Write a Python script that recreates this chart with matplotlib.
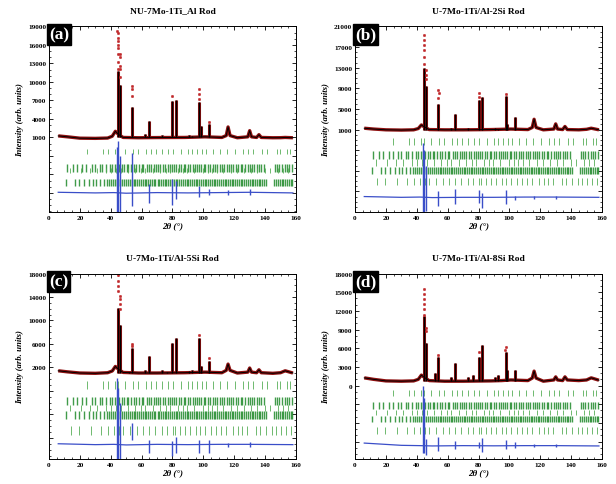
import numpy as np
import matplotlib
matplotlib.use("Agg")
import matplotlib.pyplot as plt
from matplotlib.ticker import MultipleLocator, FixedLocator, FixedFormatter

plt.rcParams['font.family'] = ['Liberation Serif', 'DejaVu Serif']

# ---------------- data ----------------
titles = ["NU-7Mo-1Ti_Al Rod", "U-7Mo-1Ti/Al-2Si Rod",
          "U-7Mo-1Ti/Al-5Si Rod", "U-7Mo-1Ti/Al-8Si Rod"]
panel_labels = ["(a)", "(b)", "(c)", "(d)"]

# background / broad features (observed ~ calculated)
bg_x = [6, 12, 20, 30, 38, 41, 43, 45, 48, 58, 70, 88, 95, 101, 112, 114.8, 116,
        117.3, 122, 128.8, 130, 131.2, 134.5, 136, 137.5, 145, 150, 153, 158]
bg_a = [1250, 1100, 880, 850, 900, 1200, 2000, 1500, 1000, 950, 980, 1000, 1050, 1100,
        1000, 1300, 2700, 1300, 950, 1100, 2100, 1100, 1000, 1450, 1000, 950, 960, 1000, 950]
bg_b = [1260, 1100, 950, 900, 950, 1200, 1900, 1500, 1000, 950, 950, 1000, 1050, 1100,
        1000, 1400, 3000, 1400, 950, 1100, 2100, 1100, 1000, 1600, 1000, 950, 1050, 1260, 950]
bg_c = [1430, 1250, 1050, 1000, 1100, 1400, 2170, 1700, 1150, 1050, 1050, 1100, 1150, 1200,
        1100, 1500, 2570, 1500, 1050, 1200, 1900, 1200, 1100, 1600, 1100, 1000, 1100, 1430, 1050]
bg_d = [1240, 1000, 750, 700, 750, 1000, 1680, 1300, 800, 700, 700, 750, 800, 900,
        800, 1200, 2320, 1200, 700, 900, 1400, 900, 800, 1400, 900, 800, 900, 1240, 860]

# sharp reflections: calculated peak tops
peak_x = [44.5, 46.0, 52.0, 54.0, 62.0, 65.0, 73.5, 76.5, 80.0, 82.5, 91.0, 92.5, 97.5, 98.6, 103.5]
calc_a = [11750, 9450, 1000, 5900, 1500, 3700, 1400, 1000, 6840, 7100, 1350, 1200, 6800, 2800, 3200]
calc_b = [12900, 9450, 1000, 6000, 1300, 4000, 1300, 1000, 6700, 7400, 1300, 1200, 7500, 2000, 3400]
calc_c = [12170, 9200, 1200, 5300, 1500, 3900, 1500, 1300, 6200, 7100, 1400, 1500, 7000, 2200, 3140]
calc_d = [11140, 6800, 1950, 4650, 1300, 3570, 1400, 1680, 4650, 6540, 1300, 1680, 5460, 2490, 2490]
base_a, base_b, base_c, base_d = 1000, 1000, 1100, 800

# observed points standing above the calculated peaks
obs_x_a = [44.3, 44.4, 44.5, 44.4, 44.6, 44.5, 44.4, 44.6, 44.5, 46.0, 46.1, 45.9, 46.0, 46.1,
           54.0, 54.0, 54.1, 80.0, 97.5, 97.4, 97.5, 103.5]
obs_y_a = [18350, 17900, 17100, 16650, 16000, 15450, 14600, 13270, 12180, 14600, 14000, 12600,
           12100, 10800, 9350, 8800, 7800, 7800, 8800, 8100, 7300, 3560]
obs_x_b = [44.4, 44.5, 44.4, 44.5, 44.6, 44.4, 46.0, 46.1, 45.9, 54.0, 54.1, 54.0, 80.0, 80.1, 97.5]
obs_y_b = [19300, 18350, 17400, 16400, 15100, 13700, 12550, 11600, 10900, 8700, 8000, 7100,
           8000, 7400, 7900]
obs_x_c = [44.5, 44.4, 44.5, 44.6, 44.4, 46.0, 46.1, 45.9, 46.0, 54.0, 54.1, 97.5, 103.5]
obs_y_c = [18740, 17770, 16740, 15890, 15030, 14170, 13600, 12740, 11890, 6000, 5600, 7600, 3600]
obs_x_d = [44.5, 44.4, 44.5, 44.6, 44.4, 44.5, 46.0, 46.1, 54.0, 80.0, 97.5, 97.4]
obs_y_d = [15460, 14650, 13840, 13030, 12220, 11400, 9240, 8700, 4900, 5460, 6270, 5730]

# difference curve
diff_bx = [6, 30, 42, 50, 70, 90, 110, 130, 158]
diff_a = [-7900, -8000, -7950, -8050, -7950, -8000, -7950, -7900, -8000]
diff_b = [-12000, -12150, -12100, -12200, -12150, -12150, -12100, -12100, -12150]
diff_c = [-11000, -11150, -11100, -11200, -11100, -11150, -11100, -11100, -11150]
diff_d = [-9240, -9600, -9650, -9700, -9650, -9680, -9650, -9650, -9700]
spike_x = [44.3, 44.8, 46.0, 54.0, 65.0, 80.0, 82.5, 97.5, 103.5, 116.0, 130.0]
spike_lo_a = [-12000, -12000, -11500, -10200, -9600, -9900, -9000, -8700, -8400, -8300, -8300]
spike_hi_a = [-500, 500, -2000, -1450, -6600, -5800, -6000, -6800, -7300, -7600, -7300]
spike_lo_b = [-15000, -15000, -14800, -13900, -13400, -13300, -14300, -13400, -12700, -12500, -12400]
spike_hi_b = [-1650, -3000, -6000, -11000, -10500, -10700, -11400, -10700, -11800, -11900, -11800]
spike_lo_c = [-13800, -13800, -13600, -10400, -12600, -13100, -12600, -12600, -12600, -11600, -11500]
spike_hi_c = [170, -1500, -4000, -7540, -10400, -10600, -9800, -10300, -10400, -10800, -10700]
spike_lo_d = [-10760, -10800, -11200, -10500, -10200, -10000, -10700, -10200, -10100, -9900, -9900]
spike_hi_d = [0, -2000, -8600, -8300, -8900, -9000, -8500, -8700, -9000, -9400, -9400]

# Bragg reflection positions of the phases
phase_a = [24.6, 35.0, 38.4, 42.6, 44.8, 49.3, 54.5, 57.8, 63.0, 66.2, 69.6, 73.1, 77.0, 80.4,
           85.8, 90.0, 92.7, 95.6, 98.8, 101.6, 106.0, 110.7, 115.3, 120.4, 125.8, 129.0,
           132.0, 137.7, 141.2, 147.5, 149.6, 154.0, 156.2]
phase_b = [11.8, 15.4, 18.1, 21.7, 24.3, 27.6, 29.9, 32.8, 34.6, 37.2, 39.5, 41.1, 42.9, 44.3,
           45.6, 47.2, 48.5, 50.3, 51.4, 53.1, 55.2, 56.4, 58.3, 60.1, 61.2, 63.4, 64.6, 66.1,
           67.9, 69.3, 70.4, 72.2, 74.1, 75.3, 77.2, 78.6, 79.7, 81.2, 82.4, 84.1, 85.4, 87.2,
           88.3, 90.1, 91.6, 93.2, 94.4, 96.1, 97.3, 98.4, 100.2, 101.3, 103.1, 104.6, 106.2,
           107.4, 109.1, 110.6, 112.2, 113.3, 115.1, 116.6, 118.2, 119.4, 121.1, 122.7, 124.2,
           125.3, 127.1, 128.6, 130.2, 131.4, 133.1, 134.6, 136.3, 137.4, 139.1, 146.2, 147.5,
           149.3, 151.2, 152.6, 154.1, 155.3, 157.2]
phase_c = [13.5, 20.8, 26.4, 31.2, 36.9, 40.3, 43.5, 46.8, 51.0, 55.7, 59.4, 62.5, 67.3, 71.8,
           75.9, 78.2, 83.5, 86.9, 89.4, 94.1, 99.6, 102.8, 105.4, 108.7, 112.9, 117.6, 121.8,
           126.5, 131.0, 134.9, 139.7, 143.4, 148.3, 151.8, 155.1]
phase_d = [11.0, 16.7, 19.6, 22.8, 25.9, 28.3, 30.6, 33.1, 35.4, 37.6, 38.8, 40.2, 41.5, 42.7,
           43.9, 45.0, 46.3, 47.4, 48.8, 49.9, 51.2, 52.3, 53.6, 54.8, 56.0, 57.1, 58.5, 59.6,
           60.8, 62.0, 63.1, 64.3, 65.6, 66.7, 67.9, 69.0, 70.3, 71.4, 72.6, 73.8, 75.0, 76.1,
           77.3, 78.5, 79.6, 80.9, 82.0, 83.2, 84.4, 85.5, 86.8, 87.9, 89.1, 90.3, 91.4, 92.6,
           93.8, 95.0, 96.1, 97.3, 98.5, 99.6, 100.8, 102.0, 103.1, 104.3, 105.5, 106.6, 107.8,
           109.0, 110.2, 111.3, 112.5, 113.7, 114.8, 116.0, 117.2, 118.3, 119.5, 120.7, 121.8,
           123.0, 124.2, 125.3, 126.5, 127.7, 128.8, 130.0, 131.2, 132.3, 133.5, 134.7, 135.8,
           137.0, 138.2, 139.3, 140.5, 146.0, 147.2, 148.4, 149.5, 150.7, 151.9, 153.0, 154.2,
           155.4, 156.5, 157.6]
phase_e = [14.2, 19.5, 27.0, 33.6, 38.1, 41.8, 45.2, 48.0, 52.6, 56.9, 61.0, 64.8, 68.5, 72.9,
           76.6, 80.1, 81.7, 84.8, 88.0, 91.2, 95.3, 97.9, 100.9, 104.9, 107.9, 111.6, 114.4,
           118.9, 122.3, 125.0, 128.1, 133.8, 136.6, 140.6, 144.2, 146.8, 150.4, 153.6, 156.7]

# y-axis ranges and ticks (labels only on the upper part)
ylims = [(-11100, 19000), (-15000, 21000), (-13600, 18000), (-11800, 18000)]
yticks_a = [-8000, -5000, -2000, 1000, 4000, 7000, 10000, 13000, 16000, 19000]
ylabels_a = ["", "", "", "1000", "4000", "7000", "10000", "13000", "16000", "19000"]
yticks_b = [-11000, -7000, -3000, 1000, 5000, 9000, 13000, 17000, 21000]
ylabels_b = ["", "", "", "1000", "5000", "9000", "13000", "17000", "21000"]
yticks_c = [-10000, -6000, -2000, 2000, 6000, 10000, 14000, 18000]
ylabels_c = ["", "", "", "2000", "6000", "10000", "14000", "18000"]
yticks_d = [-9000, -6000, -3000, 0, 3000, 6000, 9000, 12000, 15000, 18000]
ylabels_d = ["", "", "", "0", "3000", "6000", "9000", "12000", "15000", "18000"]

# ---------------- drawing ----------------
light_g = '#55ad55'
dark_g = '#1f8a2a'
panels = [
    dict(bg=bg_a, calc=calc_a, base=base_a, ox=obs_x_a, oy=obs_y_a, diff=diff_a,
         lo=spike_lo_a, hi=spike_hi_a, yt=yticks_a, yl=ylabels_a,
         rows=[(phase_a, -1300, 900, light_g), (phase_b, -4000, 1300, dark_g),
               (phase_c, -4300, 800, light_g), (phase_d, -6300, 1100, dark_g)]),
    dict(bg=bg_b, calc=calc_b, base=base_b, ox=obs_x_b, oy=obs_y_b, diff=diff_b,
         lo=spike_lo_b, hi=spike_hi_b, yt=yticks_b, yl=ylabels_b,
         rows=[(phase_a, -1320, 1300, light_g), (phase_b, -3900, 1500, dark_g),
               (phase_c, -5400, 1200, light_g), (phase_d, -6900, 1300, dark_g),
               (phase_e, -9060, 1500, light_g)]),
    dict(bg=bg_c, calc=calc_c, base=base_c, ox=obs_x_c, oy=obs_y_c, diff=diff_c,
         lo=spike_lo_c, hi=spike_hi_c, yt=yticks_c, yl=ylabels_c,
         rows=[(phase_a, -970, 1300, light_g), (phase_b, -3700, 1500, dark_g),
               (phase_c, -4900, 1100, light_g), (phase_d, -6100, 1200, dark_g),
               (phase_e, -8700, 1500, light_g)]),
    dict(bg=bg_d, calc=calc_d, base=base_d, ox=obs_x_d, oy=obs_y_d, diff=diff_d,
         lo=spike_lo_d, hi=spike_hi_d, yt=yticks_d, yl=ylabels_d,
         rows=[(phase_a, -1180, 1000, light_g), (phase_b, -3200, 1200, dark_g),
               (phase_c, -4300, 900, light_g), (phase_d, -5360, 1000, dark_g),
               (phase_e, -7230, 1200, light_g)]),
]

fig = plt.figure(figsize=(6.16, 4.85), dpi=100)
lefts = [0.0795, 0.5763, 0.0795, 0.5763]
bottoms = [0.5608, 0.5608, 0.0515, 0.0515]
W, H = 0.401, 0.3825

red = '#c0282a'
dark_red = '#8e1010'
blue = '#3a4ec8'

for i, p in enumerate(panels):
    ax = fig.add_axes([lefts[i], bottoms[i], W, H])
    # Bragg ticks
    for pos, yc, h, col in p['rows']:
        ax.vlines(pos, yc - h / 2, yc + h / 2, color=col,
                  lw=1.0 if col == dark_g else 0.7, alpha=0.85)
    # difference curve
    ax.plot(diff_bx, p['diff'], color=blue, lw=0.9)
    ax.vlines(spike_x, p['lo'], p['hi'], color=blue, lw=1.0)
    # observed (red band) and calculated (black)
    ax.plot(bg_x, p['bg'], color=dark_red, lw=2.4, solid_capstyle='butt')
    ax.vlines(peak_x, p['base'], p['calc'], color=dark_red, lw=2.2)
    ax.plot(bg_x, p['bg'], color='black', lw=0.7)
    ax.vlines(peak_x, p['base'], p['calc'], color='black', lw=1.0)
    ax.plot(p['ox'], p['oy'], 'o', ms=1.8, color=red, mec=red, mew=0.3)

    ax.set_xlim(0, 160)
    ax.set_ylim(*ylims[i])
    ax.xaxis.set_major_locator(MultipleLocator(20))
    ax.xaxis.set_minor_locator(MultipleLocator(5))
    ax.yaxis.set_major_locator(FixedLocator(p['yt']))
    ax.yaxis.set_major_formatter(FixedFormatter(p['yl']))
    ax.yaxis.set_minor_locator(MultipleLocator(1000))
    ax.tick_params(which='both', direction='in', top=True, right=True)
    ax.tick_params(which='major', length=3, width=0.6, labelsize=5.2, pad=2)
    ax.tick_params(which='minor', length=1.6, width=0.5)
    for lab in ax.get_xticklabels() + ax.get_yticklabels():
        lab.set_fontweight('bold')
    for s in ax.spines.values():
        s.set_linewidth(0.7)
    ax.set_title(titles[i], fontsize=6.8, fontweight='bold', pad=10)
    ax.set_xlabel('2θ (°)', fontsize=6.5, fontstyle='italic', fontweight='bold', labelpad=1)
    ax.set_ylabel('Intensity (arb. units)', fontsize=6.3, fontstyle='italic',
                  fontweight='bold', labelpad=3)
    ax.text(0.0, 1.0, panel_labels[i], transform=ax.transAxes, ha='left', va='top',
            fontsize=12.5, fontweight='bold', color='white',
            bbox=dict(facecolor='black', edgecolor='black', boxstyle='square,pad=0.12'))

fig.savefig('out.png', dpi=100)
